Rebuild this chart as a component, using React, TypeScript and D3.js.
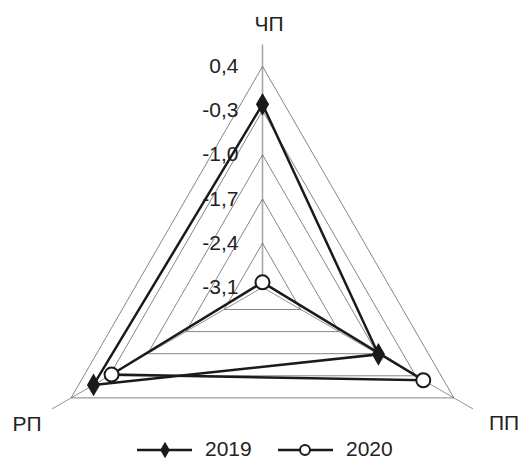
import React from 'react';
import * as d3 from 'd3';

const categories = ['ЧП', 'ПП', 'РП'];
const values2019 = [-0.2, -0.98, -0.01];
const values2020 = [-3.02, -0.16, -0.34];
const tickValues = [0.4, -0.3, -1.0, -1.7, -2.4, -3.1];

const W = 518;
const H = 459;
const cx = 262.5;
const cy = 287.4;
const R = 221;

const App = () => {
  const r = d3.scaleLinear().domain([-3.1, 0.4]).range([0, R]);
  const angle = d3
    .scalePoint<string>()
    .domain(categories)
    .range([-Math.PI / 2, -Math.PI / 2 + (2 * Math.PI * 2) / 3]);

  const pt = (cat: string, v: number): [number, number] => {
    const a = angle(cat) as number;
    return [cx + r(v) * Math.cos(a), cy + r(v) * Math.sin(a)];
  };

  const ring = (v: number) =>
    d3.line()(categories.map((c) => pt(c, v)).concat([pt(categories[0], v)])) as string;

  const series = (vals: number[]) =>
    d3.line()(vals.map((v, i) => pt(categories[i], v)).concat([pt(categories[0], vals[0])])) as string;

  const fmt = (v: number) => d3.format('.1f')(v).replace('.', ',').replace('−', '-');

  const diamond = d3.symbol(d3.symbolDiamond, 150)() as string;
  const diamondSmall = d3.symbol(d3.symbolDiamond, 80)() as string;

  const ext = R + 22;
  const labelPos: Record<string, { x: number; y: number }> = {
    'ЧП': { x: 269, y: 31 },
    'ПП': { x: 504, y: 430 },
    'РП': { x: 27, y: 431 },
  };

  return (
    <svg
      width={W}
      height={H}
      style={{ position: 'absolute', left: 0, top: 0, background: '#fff' }}
      fontFamily="Liberation Sans, Arial, sans-serif"
    >
      {/* spokes */}
      {categories.map((c) => {
        const a = angle(c) as number;
        return (
          <line
            key={c}
            x1={cx}
            y1={cy}
            x2={cx + ext * Math.cos(a)}
            y2={cy + ext * Math.sin(a)}
            stroke={c === 'ЧП' ? '#a8a8a8' : '#777'}
            strokeWidth={c === 'ЧП' ? 1.6 : 0.8}
          />
        );
      })}
      {/* rings */}
      {tickValues
        .filter((v) => v > -3.1)
        .map((v) => (
          <path key={v} d={ring(v)} fill="none" stroke="#666" strokeWidth={0.8} />
        ))}
      {/* tick labels */}
      {tickValues.map((v) => (
        <text
          key={v}
          x={cx - 24}
          y={cy - r(v) - 1}
          textAnchor="end"
          dominantBaseline="central"
          fontSize={21}
          fill="#222"
        >
          {fmt(v)}
        </text>
      ))}
      {/* series */}
      <path d={series(values2020)} fill="none" stroke="#1a1a1a" strokeWidth={2.5} />
      <path d={series(values2019)} fill="none" stroke="#1a1a1a" strokeWidth={2.5} />
      {values2019.map((v, i) => {
        const [x, y] = pt(categories[i], v);
        return <path key={i} d={diamond} transform={`translate(${x},${y})`} fill="#1a1a1a" />;
      })}
      {values2020.map((v, i) => {
        const [x, y] = pt(categories[i], v);
        return <circle key={i} cx={x} cy={y} r={7} fill="#fff" stroke="#1a1a1a" strokeWidth={2} />;
      })}
      {/* category labels */}
      {categories.map((c) => (
        <text key={c} x={labelPos[c].x} y={labelPos[c].y} textAnchor="middle" fontSize={21} fill="#222">
          {c}
        </text>
      ))}
      {/* legend */}
      <g>
        <line x1={137} x2={192} y1={450} y2={450} stroke="#1a1a1a" strokeWidth={2.5} />
        <path d={diamondSmall} transform="translate(165,450)" fill="#1a1a1a" />
        <text x={205} y={456} fontSize={21} fill="#222">2019</text>
        <line x1={278} x2={333} y1={450} y2={450} stroke="#1a1a1a" strokeWidth={2.5} />
        <circle cx={305} cy={450} r={5} fill="#fff" stroke="#1a1a1a" strokeWidth={2} />
        <text x={346} y={456} fontSize={21} fill="#222">2020</text>
      </g>
    </svg>
  );
};

export default App;
